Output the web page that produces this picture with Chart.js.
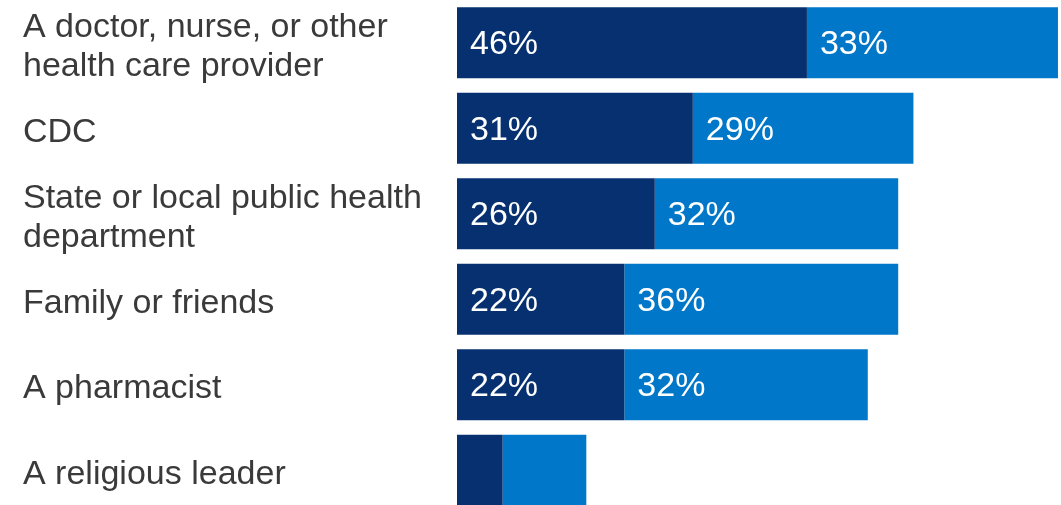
<!DOCTYPE html>
<html>
<head>
<meta charset="utf-8">
<script src="https://cdn.jsdelivr.net/npm/chart.js@4/dist/chart.umd.min.js"></script>
<style>
  html, body { margin: 0; padding: 0; background: #fff; }
  .wrap { width: 1061px; height: 505px; overflow: hidden; position: relative; }
  .box { width: 1061px; height: 513px; position: absolute; top: 0; left: 0; }
</style>
</head>
<body>
<div class="wrap"><div class="box"><canvas id="trustChart"></canvas></div></div>
<script>
const categories = [
  ['A doctor, nurse, or other', 'health care provider'],
  'CDC',
  ['State or local public health', 'department'],
  'Family or friends',
  'A pharmacist',
  'A religious leader'
];
const darkValues = [46, 31, 26, 22, 22, 6];
const lightValues = [33, 29, 32, 36, 32, 11];

const darkBlue = '#06306f';
const lightBlue = '#0077c8';
const fontFamily = '"Liberation Sans", Arial, sans-serif';

// white percent labels inside each segment, left aligned
const insideLabels = {
  id: 'insideLabels',
  afterDatasetsDraw(chart) {
    const ctx = chart.ctx;
    ctx.save();
    ctx.fillStyle = '#ffffff';
    ctx.font = '34px ' + fontFamily;
    ctx.textAlign = 'left';
    ctx.textBaseline = 'middle';
    chart.data.datasets.forEach((ds, i) => {
      chart.getDatasetMeta(i).data.forEach((bar, j) => {
        if (Math.abs(bar.x - bar.base) < 100) return; // religious leader has no labels
        ctx.fillText(ds.data[j] + '%', bar.base + 13, bar.y + 2);
      });
    });
    ctx.restore();
  }
};

const ctxTrust = document.getElementById('trustChart');
new Chart(ctxTrust, {
  type: 'bar',
  data: {
    labels: categories,
    datasets: [
      { data: darkValues, backgroundColor: darkBlue, borderWidth: 0 },
      { data: lightValues, backgroundColor: lightBlue, borderWidth: 0 }
    ]
  },
  options: {
    indexAxis: 'y',
    responsive: true,
    maintainAspectRatio: false,
    animation: false,
    layout: { padding: { left: 23, right: 0, top: 0, bottom: 0 } },
    plugins: {
      legend: { display: false },
      tooltip: { enabled: false }
    },
    datasets: {
      bar: { categoryPercentage: 0.83, barPercentage: 1 }
    },
    scales: {
      x: {
        stacked: true,
        min: 0,
        max: 79.4,
        display: false
      },
      y: {
        stacked: true,
        grid: { display: false },
        border: { display: false },
        afterFit(scale) {
          scale.width = 434;
          scale.paddingTop = 0;
          scale.paddingBottom = 0;
        },
        ticks: {
          crossAlign: 'far',
          color: '#3a3a3a',
          padding: 0,
          labelOffset: 4,
          font: { size: 34, family: fontFamily, lineHeight: 1.15 }
        }
      }
    }
  },
  plugins: [insideLabels]
});
</script>
</body>
</html>
